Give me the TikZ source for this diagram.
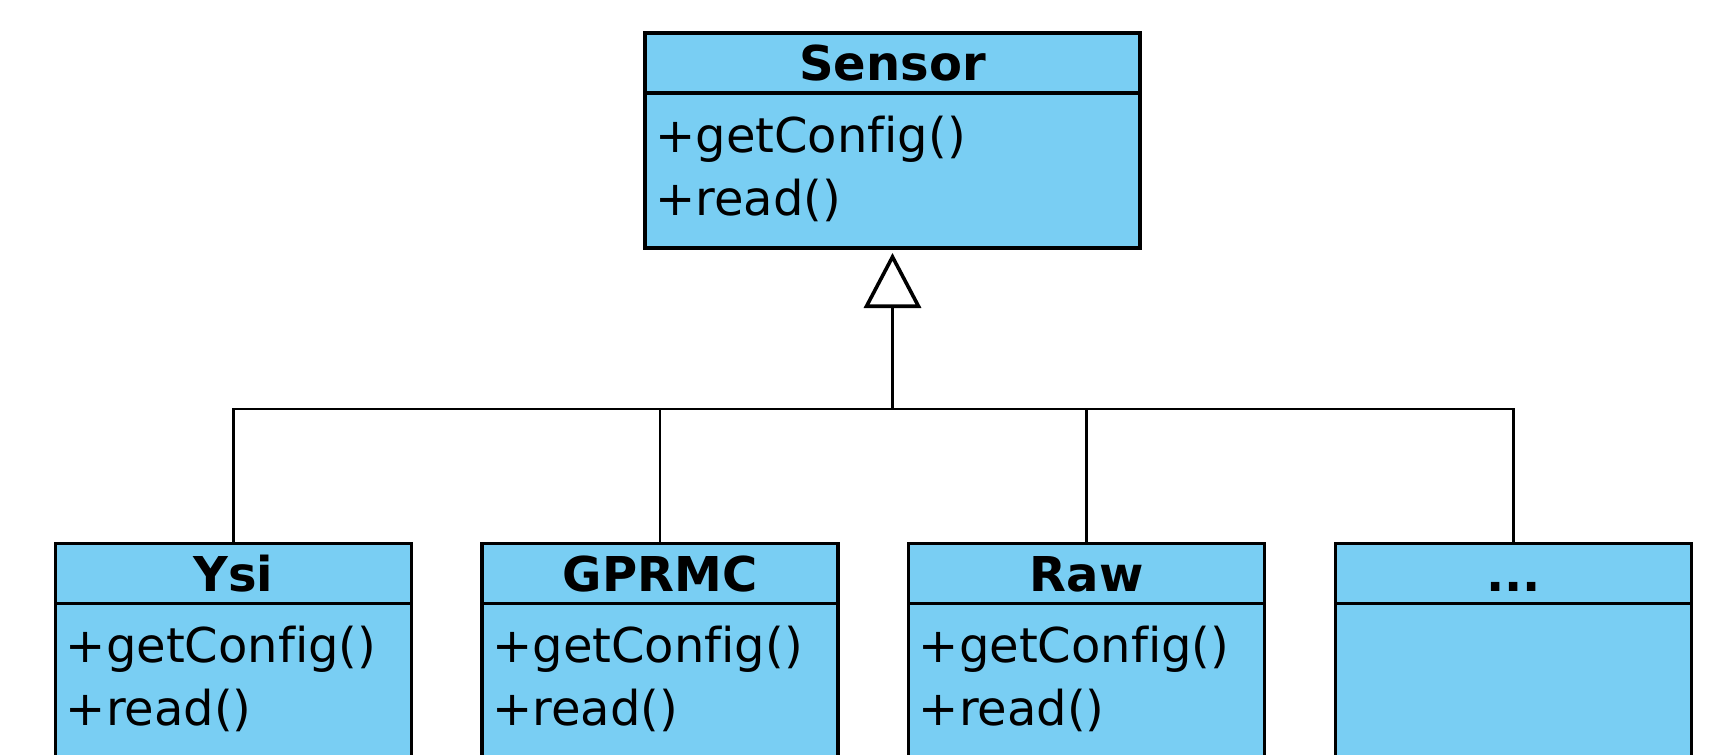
\documentclass[tikz,border=0pt]{standalone}
\usepackage{fontspec}
\setmainfont{DejaVu Sans}[Ligatures={NoCommon}]
\usetikzlibrary{positioning,calc,arrows.meta}
\definecolor{classfill}{RGB}{121,206,243}

\begin{document}
\begin{tikzpicture}[x=0.5pt,y=-0.5pt,
    classname/.style={draw,line width=1.8pt,fill=classfill,outer sep=0pt,
      minimum height=30pt,text height=17.5pt,text depth=0pt,
      font=\fontsize{24}{29}\selectfont\bfseries},
    classbody/.style={draw,line width=1.8pt,fill=classfill,outer sep=0pt,
      minimum height=77.5pt},
    method/.style={anchor=base west,inner sep=0pt,
      font=\fontsize{24}{29}\selectfont},
    link/.style={line width=1.2pt}]
    \useasboundingbox (0,0) rectangle (1736,755);

    % The abstract sensor class
    \node[classname,minimum width=247.5pt] (sensor) at (892.5,63) {Sensor};
    \node[classbody,minimum width=247.5pt,below=0pt of sensor] (sensor body) {};
    \node[method] (sensor get) at ($(sensor body.north west)+(10,59)$) {+getConfig()};
    \node[method] (sensor read) at ($(sensor get.base west)+(0,63)$) {+read()};

    % Concrete sensors, cut off by the lower edge
    \node[classname,minimum width=178pt] (ysi) at (233.5,573.5) {Ysi};
    \node[classbody,minimum width=178pt,below=0pt of ysi] (ysi body) {};
    \node[method] (ysi get) at ($(ysi body.north west)+(10,59)$) {+getConfig()};
    \node[method] (ysi read) at ($(ysi get.base west)+(0,63)$) {+read()};

    \node[classname,minimum width=178pt] (gprmc) at (660,573.5) {GPRMC};
    \node[classbody,minimum width=178pt,below=0pt of gprmc] (gprmc body) {};
    \node[method] (gprmc get) at ($(gprmc body.north west)+(10,59)$) {+getConfig()};
    \node[method] (gprmc read) at ($(gprmc get.base west)+(0,63)$) {+read()};

    \node[classname,minimum width=178pt] (raw) at (1086.5,573.5) {Raw};
    \node[classbody,minimum width=178pt,below=0pt of raw] (raw body) {};
    \node[method] (raw get) at ($(raw body.north west)+(10,59)$) {+getConfig()};
    \node[method] (raw read) at ($(raw get.base west)+(0,63)$) {+read()};

    \node[classname,minimum width=178pt] (more) at (1513.5,573.5) {...};
    \node[classbody,minimum width=178pt,below=0pt of more] (more body) {};

    % Generalisation: one bar joining all children
    \coordinate (bar) at (0,409);
    \coordinate (join) at (sensor body.south |- bar);
    \draw[link] (ysi.north) |- (join) -| (more.north);
    \draw[link] (gprmc.north) -- (gprmc.north |- join);
    \draw[link] (raw.north) -- (raw.north |- join);
    \draw[line width=1.8pt,-{Triangle[open,length=27.5pt,width=28.5pt]},
      shorten >=2.5pt] (join) -- (sensor body.south);
\end{tikzpicture}
\end{document}
